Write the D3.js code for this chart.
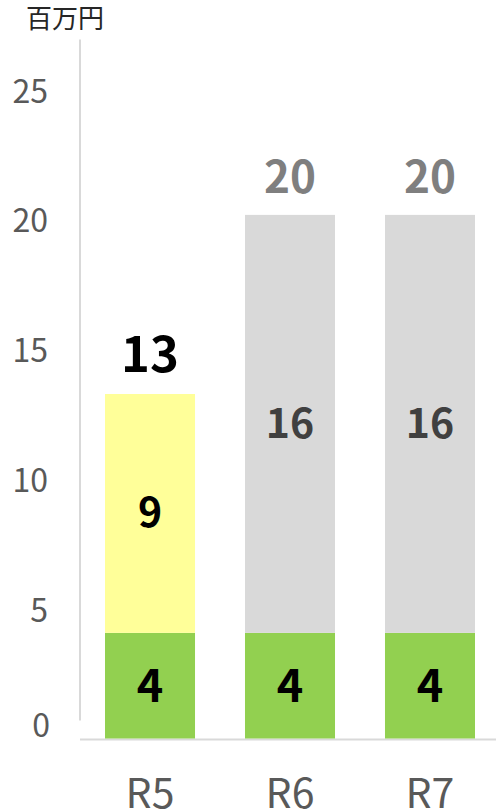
<!DOCTYPE html>
<html lang="ja">
<head>
    <meta charset="UTF-8">
    <title>D3 Chart</title>
    <script src="https://d3js.org/d3.v7.min.js"></script>
    <style>
        body { margin: 0; background: #fff; }
        text { font-family: "Noto Sans CJK JP", "Noto Sans", sans-serif; }
        .axis-line { stroke: #d9d9d9; stroke-width: 2px; }
        .tick-label { fill: #595959; font-size: 32px; }
        .cat-label { fill: #595959; font-size: 41px; }
        .seg-label { font-weight: bold; }
    </style>
</head>
<body>
    <div id="chart"></div>

    <script>
        // data
        const categories = ["R5", "R6", "R7"];
        const baseValues = [4.07, 4.07, 4.07];      // green
        const r5Extra = [9.2, 0, 0];                // yellow
        const planValues = [0, 16.1, 16.1];          // gray
        const baseLabels = ["4", "4", "4"];
        const extraLabels = ["9", "16", "16"];
        const totalLabels = ["13", "20", "20"];
        const yTicks = [0, 5, 10, 15, 20, 25];

        const width = 496, height = 810;

        const svg = d3.select("#chart")
          .append("svg")
            .attr("width", width)
            .attr("height", height);

        const x = d3.scaleBand()
            .domain(categories)
            .range([80, 500])
            .paddingInner(0.357)
            .paddingOuter(0.1786);

        const y = d3.scaleLinear()
            .domain([0, 25])
            .range([738.5, 89.5]);

        // unit
        svg.append("text")
            .attr("x", 26)
            .attr("y", 28)
            .style("font-size", "26px")
            .style("fill", "#262626")
            .text("百万円");

        // y tick labels (0 is pushed up a bit, like the original)
        svg.selectAll(".tick-label")
            .data(yTicks)
            .enter()
            .append("text")
            .attr("class", "tick-label")
            .attr("x", d => d === 0 ? 50 : 48)
            .attr("y", d => d === 0 ? y(d) - 1.5 : y(d) + 13)
            .attr("text-anchor", "end")
            .text(d => d);

        // axis lines
        svg.append("line")
            .attr("class", "axis-line")
            .attr("x1", 80).attr("x2", 80)
            .attr("y1", y(25) - 50).attr("y2", y(0) - 18);
        svg.append("line")
            .attr("class", "axis-line")
            .attr("x1", 80).attr("x2", width)
            .attr("y1", y(0) + 1).attr("y2", y(0) + 1);

        const rows = categories.map((c, i) => ({
            cat: c,
            base: baseValues[i],
            extra: r5Extra[i] + planValues[i],
            color: r5Extra[i] > 0 ? "#ffff99" : "#d9d9d9",
            extraColor: r5Extra[i] > 0 ? "#000" : "#404040",
            totalColor: r5Extra[i] > 0 ? "#000" : "#7f7f7f",
            baseLabel: baseLabels[i],
            extraLabel: extraLabels[i],
            totalLabel: totalLabels[i]
        }));

        // green base
        svg.selectAll(".bar-base")
            .data(rows)
            .enter()
            .append("rect")
            .attr("x", d => x(d.cat))
            .attr("width", x.bandwidth())
            .attr("y", d => y(d.base))
            .attr("height", d => y(0) - y(d.base))
            .style("fill", "#92d050");

        // upper segment
        svg.selectAll(".bar-extra")
            .data(rows)
            .enter()
            .append("rect")
            .attr("x", d => x(d.cat))
            .attr("width", x.bandwidth())
            .attr("y", d => y(d.base + d.extra))
            .attr("height", d => y(d.base) - y(d.base + d.extra))
            .style("fill", d => d.color);

        // segment labels
        svg.selectAll(".lbl-base")
            .data(rows)
            .enter()
            .append("text")
            .attr("class", "seg-label")
            .attr("x", d => x(d.cat) + x.bandwidth() / 2)
            .attr("y", d => (y(0) + y(d.base)) / 2 + 16)
            .attr("text-anchor", "middle")
            .style("font-size", "45px")
            .style("fill", "#000")
            .text(d => d.baseLabel);

        svg.selectAll(".lbl-extra")
            .data(rows)
            .enter()
            .append("text")
            .attr("class", "seg-label")
            .attr("x", d => x(d.cat) + x.bandwidth() / 2)
            .attr("y", d => (y(d.base) + y(d.base + d.extra)) / 2 + 14)
            .attr("text-anchor", "middle")
            .style("font-size", "41px")
            .style("fill", d => d.extraColor)
            .text(d => d.extraLabel);

        // totals
        svg.selectAll(".lbl-total")
            .data(rows)
            .enter()
            .append("text")
            .attr("class", "seg-label")
            .attr("x", d => x(d.cat) + x.bandwidth() / 2)
            .attr("y", d => y(d.base + d.extra) - 22)
            .attr("text-anchor", "middle")
            .style("font-size", d => d.totalColor === "#000" ? "49px" : "44px")
            .style("fill", d => d.totalColor)
            .text(d => d.totalLabel);

        // category labels
        svg.selectAll(".cat-label")
            .data(categories)
            .enter()
            .append("text")
            .attr("class", "cat-label")
            .attr("x", d => x(d) + x.bandwidth() / 2)
            .attr("y", 808)
            .attr("text-anchor", "middle")
            .text(d => d);
    </script>
</body>
</html>
